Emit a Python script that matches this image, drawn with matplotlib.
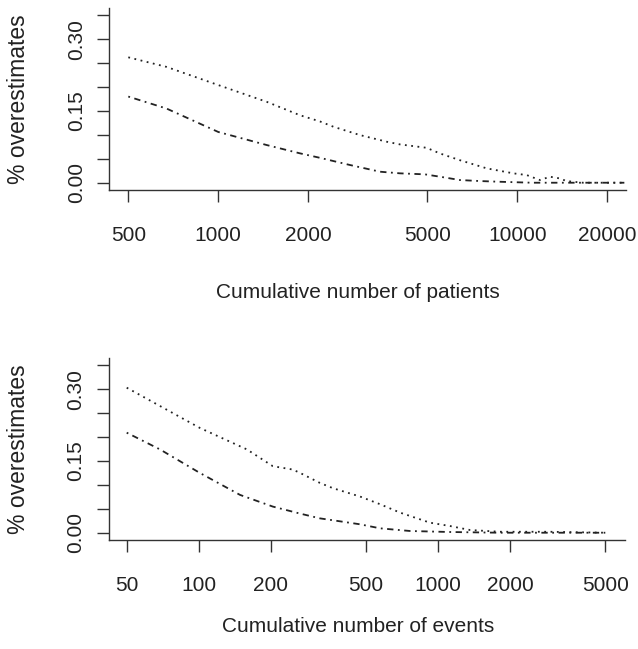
import matplotlib
matplotlib.use("Agg")
import matplotlib.pyplot as plt
from matplotlib.ticker import FixedLocator, FixedFormatter, NullLocator

plt.rcParams['font.family'] = ['Liberation Sans', 'DejaVu Sans']

# -----------------------------
# Data
# -----------------------------
# top panel: cumulative number of patients
pat_upper_x = [500, 671, 1000, 1452, 1875, 2188, 2425, 2978, 3660, 4053, 4970,
               5520, 6430, 7900, 9700, 10750, 11900, 12860, 13870, 14600,
               16580, 18870, 22800]
pat_upper_y = [0.262, 0.242, 0.204, 0.169, 0.141, 0.128, 0.117, 0.0995, 0.0856,
               0.080, 0.073, 0.061, 0.047, 0.030, 0.0196, 0.016, 0.0056, 0.0125,
               0.009, 0.0035, 0.0, 0.0, 0.0]
pat_lower_x = [500, 671, 1000, 1452, 1875, 2188, 2757, 3474, 4053, 4910, 5520,
               6430, 7500, 8748, 11200, 16000, 22800]
pat_lower_y = [0.180, 0.155, 0.106, 0.0787, 0.0614, 0.052, 0.037, 0.023, 0.0196,
               0.0175, 0.0125, 0.0056, 0.0035, 0.002, 0.0, 0.0, 0.0]

# bottom panel: cumulative number of events
ev_upper_x = [50, 101, 159, 204, 247, 265, 321, 364, 472, 572, 694, 925, 1122,
              1359, 1815, 2937, 5000]
ev_upper_y = [0.303, 0.219, 0.174, 0.139, 0.132, 0.125, 0.104, 0.093, 0.0756,
              0.0596, 0.042, 0.021, 0.014, 0.0057, 0.002, 0.002, 0.0]
ev_lower_x = [50, 68.9, 101, 148.8, 204, 265, 321, 364, 472, 572, 764, 1122,
              1815, 5000]
ev_lower_y = [0.209, 0.174, 0.125, 0.079, 0.0546, 0.040, 0.030, 0.026, 0.0176,
              0.0092, 0.0036, 0.0015, 0.0, 0.0]

pat_ticks = [500, 1000, 2000, 5000, 10000, 20000]
ev_ticks = [50, 100, 200, 500, 1000, 2000, 5000]
y_ticks = [0.0, 0.05, 0.10, 0.15, 0.20, 0.25, 0.30, 0.35]
y_labels = ["0.00", "", "", "0.15", "", "", "0.30", ""]

W, H = 638, 649
ink = "#222222"
fs = 15

fig = plt.figure(figsize=(W / 100, H / 100), dpi=100)


def panel(box, xlim, ticks, series, xlabel, xlab_y):
    left, top, right, bottom = box
    ax = fig.add_axes([left / W, 1 - bottom / H, (right - left) / W, (bottom - top) / H])
    ax.set_xscale("log")
    for xs, ys, dashes in series:
        ax.plot(xs, ys, color=ink, lw=1.3, dashes=dashes)
    ax.set_xlim(*xlim)
    ax.set_ylim(-0.0152, 0.365)
    ax.xaxis.set_major_locator(FixedLocator(ticks))
    ax.xaxis.set_major_formatter(FixedFormatter([str(t) for t in ticks]))
    ax.xaxis.set_minor_locator(NullLocator())
    ax.yaxis.set_major_locator(FixedLocator(y_ticks))
    ax.yaxis.set_major_formatter(FixedFormatter(y_labels))
    for s in ("top", "right"):
        ax.spines[s].set_visible(False)
    for s in ("left", "bottom"):
        ax.spines[s].set_color("#333333")
        ax.spines[s].set_linewidth(1.0)
    ax.tick_params(axis="both", direction="out", length=8.6, width=1.0,
                   color="#333333", labelsize=fs, labelcolor=ink)
    ax.tick_params(axis="x", pad=17)
    ax.tick_params(axis="y", pad=8)
    plt.setp(ax.get_yticklabels(), rotation=90, va="center")
    fig.text(358 / W, 1 - xlab_y / H, xlabel, ha="center", va="center",
             fontsize=fs, color=ink)
    fig.text(19 / W, 1 - (top + bottom) / 2 / H, "% overestimates", ha="center",
             va="center", rotation=90, fontsize=fs + 1.5, color=ink)
    return ax


panel((109, 8, 625.7, 190), (431, 23040), pat_ticks,
      [(pat_upper_x, pat_upper_y, (1, 2.5)), (pat_lower_x, pat_lower_y, (1, 2.5, 3.5, 2.5))],
      "Cumulative number of patients", 293)

panel((108.5, 358, 625, 540), (41.97, 6044), ev_ticks,
      [(ev_upper_x, ev_upper_y, (1, 2.5)), (ev_lower_x, ev_lower_y, (1, 2.5, 3.5, 2.5))],
      "Cumulative number of events", 627)

fig.savefig("out.png", dpi=100)
